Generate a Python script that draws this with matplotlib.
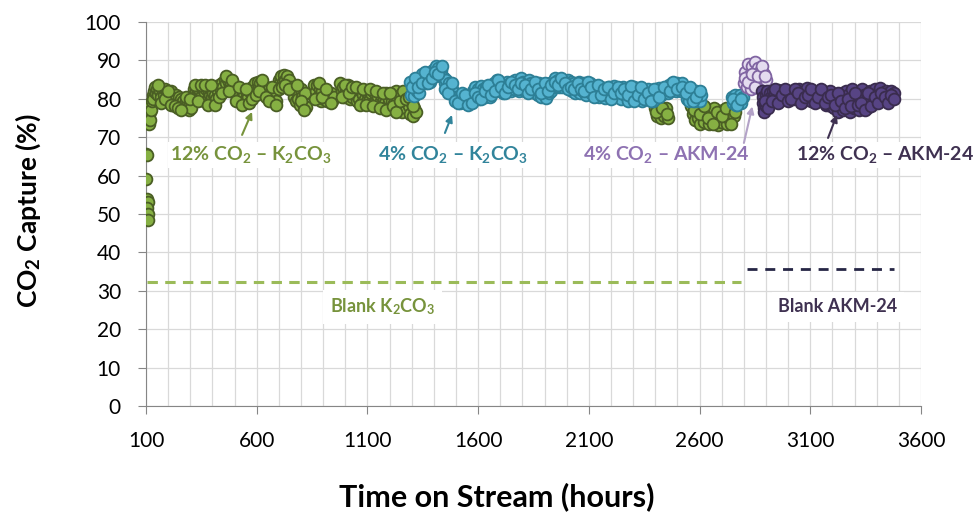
import matplotlib
matplotlib.use('Agg')
import matplotlib.pyplot as plt

plt.rcParams['font.family'] = ['Lato', 'DejaVu Sans']
plt.rcParams['mathtext.fontset'] = 'custom'
plt.rcParams['mathtext.rm'] = 'Lato'
plt.rcParams['mathtext.bf'] = 'Lato:bold'
plt.rcParams['mathtext.it'] = 'Lato:italic'

# (hours, % capture)
k2co3_12 = [
    (100, 65.5), (106, 65.3), (102, 59), (104, 54), (108, 53), (106, 51.5), (110, 50), (108, 48.5),
    (112, 73.5), (114, 75), (116, 76.5), (118, 74.5), (120, 78), (124, 77), (126, 79.5), (130, 81),
    (134, 80), (138, 82), (142, 83), (146, 81.5),
    (150, 82.5), (155, 81), (160, 83), (165, 82), (170, 80.5), (175, 82), (180, 81), (185, 82.5),
    (190, 80), (195, 81.5), (200, 79.5), (205, 81), (210, 80), (215, 82), (220, 79.5), (225, 81),
    (230, 80), (237, 81), (242, 79), (247, 80.5), (252, 78.5), (257, 80), (262, 79),
    (268, 79.5), (274, 78), (279, 79.5), (284, 77.5), (289, 79), (294, 77), (299, 78.5), (304, 77.5),
    (311, 81), (316, 82.5), (321, 80.5), (326, 82), (331, 81), (336, 82.5), (341, 80.5), (346, 82),
    (351, 81), (356, 82.5), (363, 79.5), (368, 81.5), (373, 82.5), (378, 80), (383, 82), (388, 81),
    (393, 82.5), (398, 80.5), (403, 81.5), (408, 79.5), (413, 81), (418, 80),
    (425, 82), (431, 83.5), (437, 82.5), (443, 84), (449, 83), (455, 85), (461, 84), (467, 85.5),
    (473, 84.5), (479, 83), (485, 84), (491, 82.5), (496, 83.5),
    (502, 81.5), (508, 82.5), (514, 80.5), (520, 81.5), (526, 79.5), (532, 80.5), (538, 79.5),
    (544, 81), (550, 80), (556, 81.5), (562, 80.5), (568, 82),
    (575, 81.5), (581, 83), (587, 82), (593, 84), (599, 82.5), (605, 84.5), (611, 83), (617, 84),
    (623, 82), (629, 83.5), (635, 81.5), (641, 83),
    (650, 81), (656, 82.5), (662, 80.5), (668, 82), (674, 79.5), (680, 81), (686, 79.5),
    (694, 83.5), (700, 85), (706, 84), (712, 86), (718, 84.5), (724, 86.3), (730, 85), (736, 86),
    (742, 84), (748, 85), (756, 83), (762, 82), (770, 82.5), (770, 80.5), (776, 79.5), (782, 82),
    (788, 80), (794, 78.5), (800, 82.5), (806, 80.5), (812, 78), (818, 81.5), (822, 77.8),
    (860, 83.5), (866, 82), (872, 83.5), (878, 80.5), (884, 82.5), (890, 79.5), (896, 82), (902, 80),
    (912, 81.5), (918, 79.5), (924, 81), (930, 80), (936, 81.5), (942, 79.5), (948, 80.5),
    (978, 84), (984, 82), (990, 83), (996, 80.5), (1002, 82.5), (1008, 81), (1014, 83.5), (1020, 80),
    (1026, 82), (1032, 80.5), (1040, 82.5), (1046, 81), (1052, 79.5), (1058, 81.5), (1064, 80),
    (1070, 82), (1076, 79), (1082, 81), (1088, 80), (1094, 82), (1100, 79.5), (1106, 81), (1112, 80),
    (1118, 81.5), (1126, 82), (1132, 79.5), (1138, 81), (1144, 78.5), (1150, 80.5), (1156, 79),
    (1162, 81), (1168, 78), (1174, 80), (1180, 79), (1186, 81.5), (1192, 78.5), (1198, 80),
    (1204, 77.5), (1210, 79.5), (1216, 81.5), (1222, 79), (1228, 82), (1234, 80), (1240, 78),
    (1246, 81), (1252, 79), (1258, 76.5), (1264, 80.5), (1270, 78.5), (1276, 77.5), (1282, 80),
    (1288, 78), (1294, 76), (1300, 79), (1306, 75.5), (1312, 77.5), (1318, 76.5),
    (155, 83.5), (170, 79), (185, 80), (200, 82), (215, 78.5), (230, 78), (245, 77.5), (260, 77),
    (280, 80.5), (300, 80), (320, 83.5), (335, 79.5), (350, 83.5), (365, 83.5), (380, 78.5),
    (395, 83.5), (410, 78.5), (430, 80.5), (445, 81.5), (460, 86), (475, 82), (490, 85),
    (505, 79.5), (520, 83), (535, 78.5), (550, 82.5), (565, 79), (580, 80), (595, 81), (610, 82),
    (625, 85), (640, 80.5), (655, 79.5), (670, 83), (685, 78.5), (700, 82.5), (715, 83),
    (730, 83.5), (745, 82.5), (780, 83.5), (800, 79.5), (815, 77), (865, 80), (880, 84),
    (895, 80.5), (915, 82.5), (935, 79), (985, 80.5), (1000, 83.5), (1015, 81.5), (1030, 83),
    (1050, 83), (1065, 78.5), (1080, 82.5), (1095, 78.5), (1110, 82.5), (1125, 78), (1140, 82),
    (1155, 77.5), (1170, 81.5), (1185, 77), (1200, 81.5), (1215, 78), (1230, 76.5), (1245, 79.5),
    (1260, 82), (1275, 80), (1290, 80.5), (1305, 78),
    (2400, 77.5), (2408, 75.5), (2416, 77), (2424, 75), (2432, 76.5), (2440, 75.5), (2448, 77.5),
    (2456, 75), (2404, 76.5), (2428, 77.5), (2452, 76),
    (2562, 78), (2570, 76), (2578, 74.5), (2586, 77.5), (2594, 75), (2602, 73.5), (2610, 76.5),
    (2618, 74), (2626, 77), (2634, 75.5), (2642, 73.5), (2650, 76), (2658, 74.5), (2666, 77.5),
    (2674, 75), (2682, 73.3), (2690, 76), (2698, 74), (2706, 77), (2714, 75), (2722, 73.5),
    (2730, 76), (2738, 74.5), (2746, 77.5), (2754, 75.5),
    (2575, 77), (2600, 76), (2620, 78), (2640, 75), (2660, 73.5), (2680, 76.5), (2700, 75.5),
    (2720, 77.5), (2740, 73.5), (2760, 76.5),
]

k2co3_4 = [
    (1292, 84.5), (1298, 81), (1304, 83), (1310, 80.7), (1316, 84), (1322, 82), (1328, 85), (1334, 81.5),
    (1340, 84.5), (1346, 86.5), (1352, 85), (1358, 86), (1364, 84.2), (1370, 86.8), (1376, 85.5),
    (1382, 84.5), (1388, 86.5), (1396, 87.5), (1402, 86), (1408, 88.5), (1414, 87), (1420, 88),
    (1426, 86), (1432, 87.5), (1438, 86), (1444, 85.5), (1450, 84), (1456, 85), (1462, 83),
    (1468, 84), (1474, 82), (1480, 82.5), (1486, 81), (1492, 81.5), (1498, 80.5),
    (1504, 79.5), (1510, 80.5), (1516, 79), (1522, 80.7), (1528, 79.5), (1534, 80.5), (1540, 79),
    (1546, 80.5), (1552, 79.5), (1558, 81), (1564, 79.5), (1570, 80.5),
    (1576, 82), (1582, 80), (1588, 83), (1594, 81), (1600, 82.5), (1606, 80), (1612, 83.3),
    (1618, 81.5), (1624, 82.5), (1630, 80.5), (1636, 83), (1642, 81), (1648, 82.5), (1654, 80.5),
    (1660, 83), (1666, 82), (1672, 84), (1678, 82.5), (1684, 85), (1690, 83), (1696, 84.5),
    (1702, 82), (1708, 84), (1714, 81.5), (1720, 83.5), (1726, 82), (1732, 84.5), (1738, 82.5),
    (1744, 84), (1750, 82), (1756, 84.5), (1762, 82.5), (1768, 85), (1774, 83), (1780, 84.5),
    (1786, 82), (1792, 85.5), (1798, 83.5), (1804, 84.5), (1810, 82), (1816, 84), (1822, 83),
    (1828, 85), (1834, 82.5), (1840, 84), (1846, 82), (1852, 83.5), (1858, 81.5), (1864, 83),
    (1870, 81), (1876, 84), (1882, 80.5), (1888, 83), (1894, 81.5), (1900, 82.5), (1906, 80.3),
    (1912, 83.5), (1918, 81.5), (1924, 84), (1930, 82), (1936, 84.5), (1942, 83), (1948, 85.5),
    (1954, 83.5), (1960, 85), (1966, 83), (1972, 84.5), (1978, 83), (1984, 85), (1990, 83.5),
    (1996, 84.5), (2002, 83), (2008, 85), (2014, 83), (2020, 84.5), (2026, 82), (2032, 84),
    (2038, 81.5), (2044, 83.5), (2050, 82), (2056, 84.5), (2062, 81.5), (2068, 83.5), (2074, 82),
    (2080, 84), (2086, 81.1), (2092, 83), (2098, 82), (2104, 84), (2110, 81.5), (2116, 83),
    (2122, 82), (2130, 83), (2136, 81), (2142, 82.5), (2148, 80.5), (2154, 83), (2160, 81.5),
    (2166, 82.5), (2172, 80.3), (2178, 82), (2184, 81), (2190, 83), (2196, 80.5), (2202, 82),
    (2208, 81), (2214, 83.3), (2220, 80.5), (2226, 82), (2232, 81), (2238, 82.5), (2246, 80),
    (2254, 83), (2262, 81), (2270, 82.5), (2278, 79.5), (2286, 82), (2294, 80.5), (2302, 83),
    (2310, 81), (2318, 82.5), (2326, 80), (2334, 82), (2342, 79.5), (2350, 81.5), (2358, 80.5),
    (2366, 82.5), (2374, 80), (2382, 81.5), (2390, 79.4), (2396, 81), (2402, 82.5), (2410, 81.5),
    (2418, 82.9), (2426, 81.1), (2434, 82.5), (2442, 81.5), (2450, 82.5), (2456, 81.5),
    (2462, 83.5), (2468, 82), (2474, 84.2), (2480, 82.5), (2486, 83.5), (2492, 82), (2498, 84),
    (2504, 82.5), (2510, 83.5), (2516, 82), (2522, 84), (2528, 82.5), (2536, 82.5), (2542, 80),
    (2548, 82), (2554, 79.5), (2560, 82.5), (2566, 80.5), (2572, 81.5), (2578, 79.5), (2584, 82),
    (2590, 80.5), (2596, 81.5), (2602, 79.5), (2608, 81),
    (1300, 83), (1315, 85.5), (1330, 83), (1345, 84), (1360, 87), (1375, 84), (1390, 85.5),
    (1405, 87), (1420, 86.5), (1435, 88.5), (1450, 82.5), (1465, 81.5), (1480, 84), (1495, 79.5),
    (1510, 79), (1525, 81.5), (1540, 81), (1555, 78.5), (1570, 79), (1585, 81.5), (1600, 80.5),
    (1615, 80), (1630, 82), (1645, 83.5), (1660, 81), (1675, 82), (1690, 85), (1705, 83),
    (1720, 81.5), (1735, 83), (1750, 84.5), (1765, 83.5), (1780, 82.5), (1795, 84), (1810, 83.5),
    (1825, 81.5), (1840, 82.5), (1855, 84.5), (1870, 82.5), (1885, 81.5), (1900, 84), (1915, 82),
    (1930, 83.5), (1945, 84.5), (1960, 83.5), (1975, 85.5), (1990, 84), (2005, 82.5), (2020, 83),
    (2035, 82.5), (2050, 84), (2065, 82.5), (2080, 82), (2095, 84.5), (2110, 83), (2125, 80.5),
    (2140, 83.5), (2155, 81), (2170, 82.5), (2185, 83), (2200, 80), (2215, 81.5), (2230, 83),
    (2245, 81.5), (2260, 82.5), (2275, 81), (2290, 83.3), (2305, 79.5), (2320, 81), (2335, 83),
    (2350, 80), (2365, 81.5), (2380, 79.5), (2395, 82.5), (2415, 80.5), (2440, 83), (2465, 82),
    (2480, 84.5), (2500, 82.5), (2520, 83), (2540, 81.5), (2555, 83), (2570, 79.5), (2585, 80.5),
    (2600, 82),
    (2745, 80.5), (2752, 79), (2758, 81), (2764, 78.5), (2770, 80), (2776, 79), (2782, 81),
    (2788, 78.8), (2794, 80.5), (2750, 80), (2770, 78.5), (2785, 80),
]

akm_4 = [
    (2800, 84), (2806, 87), (2812, 83), (2818, 89), (2824, 86), (2830, 82.5), (2836, 88.5),
    (2842, 85.5), (2848, 89.5), (2854, 87), (2860, 84), (2866, 88), (2872, 85.5), (2878, 87.5),
    (2884, 84.5), (2890, 86.5), (2896, 83.5), (2902, 85),
    (2805, 85.5), (2820, 84.5), (2835, 86.5), (2850, 83), (2865, 86), (2880, 88.5), (2895, 86),
]

akm_12 = [
    (2884, 82), (2886, 80.5), (2888, 79), (2890, 77.5), (2892, 76.5), (2898, 81), (2902, 78),
    (2906, 82), (2912, 79.5), (2918, 81.5), (2924, 80.5), (2930, 82), (2936, 80), (2942, 81.5),
    (2948, 80.5), (2954, 82.3), (2960, 80), (2966, 81.5), (2972, 79.8), (2978, 82), (2984, 80.5),
    (2990, 81.5), (2996, 80), (3002, 82), (3008, 80.5), (3014, 81.5), (3020, 80), (3026, 82),
    (3032, 80.5), (3038, 81.5), (3044, 80), (3050, 82.5), (3056, 80), (3062, 81.5), (3068, 79.5),
    (3074, 82), (3080, 80.5), (3086, 82.8), (3092, 80), (3098, 81.5), (3104, 79.5), (3110, 82),
    (3116, 80.5), (3122, 81.5), (3128, 79.5), (3134, 82), (3140, 80), (3146, 81.5), (3152, 80),
    (3158, 82), (3164, 80.5), (3170, 78.5), (3176, 81.5), (3182, 79), (3188, 82), (3194, 78),
    (3200, 80.5), (3206, 77.5), (3212, 81), (3218, 79), (3224, 76.5), (3230, 80.5), (3236, 78),
    (3242, 81.5), (3248, 77), (3254, 79.5), (3260, 82), (3266, 78.5), (3272, 81), (3278, 76.5),
    (3284, 80), (3290, 82.5), (3296, 77.5), (3302, 80.5), (3308, 79), (3314, 81.5), (3320, 77),
    (3326, 80), (3332, 82.5), (3338, 78.5), (3344, 81), (3350, 79.5), (3356, 77.5), (3362, 80.5),
    (3368, 82), (3374, 79.5), (3380, 81.5), (3386, 80), (3392, 82.5), (3398, 79.5), (3404, 81.5),
    (3410, 80.5), (3416, 82.8), (3422, 80), (3428, 81.5), (3434, 79.8), (3440, 82), (3446, 80.5),
    (3452, 81.5), (3458, 80), (3464, 82), (3470, 80.5), (3476, 81.5),
    (2895, 79.5), (2910, 77.5), (2925, 79.5), (2940, 82.5), (2955, 79), (2970, 81), (2985, 82.5),
    (3000, 79.5), (3015, 80), (3030, 82.5), (3045, 81.5), (3060, 79), (3075, 80.5), (3090, 81),
    (3105, 82.5), (3120, 79), (3135, 80.5), (3150, 82.5), (3165, 79), (3180, 80.5), (3195, 81),
    (3210, 78.5), (3225, 81.5), (3240, 79.5), (3255, 77.5), (3270, 80), (3285, 78), (3300, 81.5),
    (3315, 78.5), (3330, 79), (3345, 77), (3360, 81.5), (3375, 78), (3390, 80.5), (3405, 79),
    (3420, 81.5), (3435, 80.5), (3450, 79), (3465, 81), (3478, 80),
]

blank_k2co3 = ([104, 2787], [32.3, 32.3])
blank_akm = ([2814, 3478], [35.7, 35.7])

series = [
    (k2co3_12, '#86B043', '#4A5E24'),
    (k2co3_4, '#55B3D0', '#2D7F96'),
    (akm_4, '#E4DCEF', '#8064A2'),
    (akm_12, '#574484', '#3A2C4E'),
]

fig = plt.figure(figsize=(9.79, 5.14), dpi=100)
ax = fig.add_axes([0.1491, 0.2101, 0.7917, 0.7471])

for pts, face, edge in series:
    xs = [p[0] for p in pts]
    ys = [p[1] for p in pts]
    ax.scatter(xs, ys, s=72, c=face, edgecolors=edge, linewidths=1.3, zorder=3)

ax.plot(*blank_k2co3, color='#9BBB59', lw=2.2, dashes=(3.4, 2.4), zorder=2)
ax.plot(*blank_akm, color='#262645', lw=2.0, dashes=(3.6, 2.8), zorder=2)

ax.set_xlim(100, 3600)
ax.set_ylim(0, 100)
ax.set_xticks(range(100, 3601, 500))
ax.set_xticks(range(100, 3601, 100), minor=True)
ax.set_yticks(range(0, 101, 10))
ax.grid(True, which='both', axis='x', color='#D9D9D9', lw=0.9, zorder=0)
ax.grid(True, which='major', axis='y', color='#D9D9D9', lw=0.9, zorder=0)
ax.set_axisbelow(True)
for s in ['top', 'right']:
    ax.spines[s].set_visible(False)
for s in ['left', 'bottom']:
    ax.spines[s].set_color('#868686')
ax.tick_params(axis='both', which='major', length=6, color='#868686', labelsize=15,
               labelcolor='black', pad=12)
ax.tick_params(axis='x', which='minor', length=0)

fig.text(0.5077, 0.033, 'Time on Stream (hours)', ha='center', va='center',
         fontsize=22, fontweight='bold')
fig.text(0.0286, 0.59, r'CO$_\mathbf{2}$ Capture (%)', ha='center', va='center',
         rotation=90, fontsize=19, fontweight='bold')

box = dict(facecolor='white', edgecolor='none', pad=2)
labels = [
    (574, r'12% CO$_\mathbf{2}$ – K$_\mathbf{2}$CO$_\mathbf{3}$', '#77933C'),
    (1486, r'4% CO$_\mathbf{2}$ – K$_\mathbf{2}$CO$_\mathbf{3}$', '#31849B'),
    (2448, r'4% CO$_\mathbf{2}$ – AKM-24', '#8E72B2'),
    (3437, r'12% CO$_\mathbf{2}$ – AKM-24', '#3F3151'),
]
for x, t, c in labels:
    ax.text(x, 65.4, t, color=c, fontsize=14, fontweight='bold', ha='center', va='center',
            bbox=box, zorder=4, clip_on=False)

arrows = [
    ((534, 70.6), (579, 76.6), '#77933C'),
    ((1450, 71.1), (1482, 75.8), '#31849B'),
    ((2800, 68.5), (2838, 78.0), '#B3A2C7'),
    ((3180, 69.8), (3220, 75.8), '#3F3151'),
]
for tail, head, c in arrows:
    ax.annotate('', xy=head, xytext=tail,
                arrowprops=dict(arrowstyle='-|>', color=c, lw=1.5, mutation_scale=10,
                                shrinkA=0, shrinkB=0), zorder=5)

bbox_blank = dict(facecolor='white', edgecolor='none', pad=5)
ax.text(1170, 25.8, r'Blank K$_\mathbf{2}$CO$_\mathbf{3}$', color='#77933C', fontsize=13,
        fontweight='bold', ha='center', va='center', bbox=bbox_blank, zorder=4)
ax.text(3225, 25.8, 'Blank AKM-24', color='#3F3151', fontsize=13, fontweight='bold',
        ha='center', va='center', bbox=bbox_blank, zorder=4)

fig.savefig('out.png', dpi=100)
